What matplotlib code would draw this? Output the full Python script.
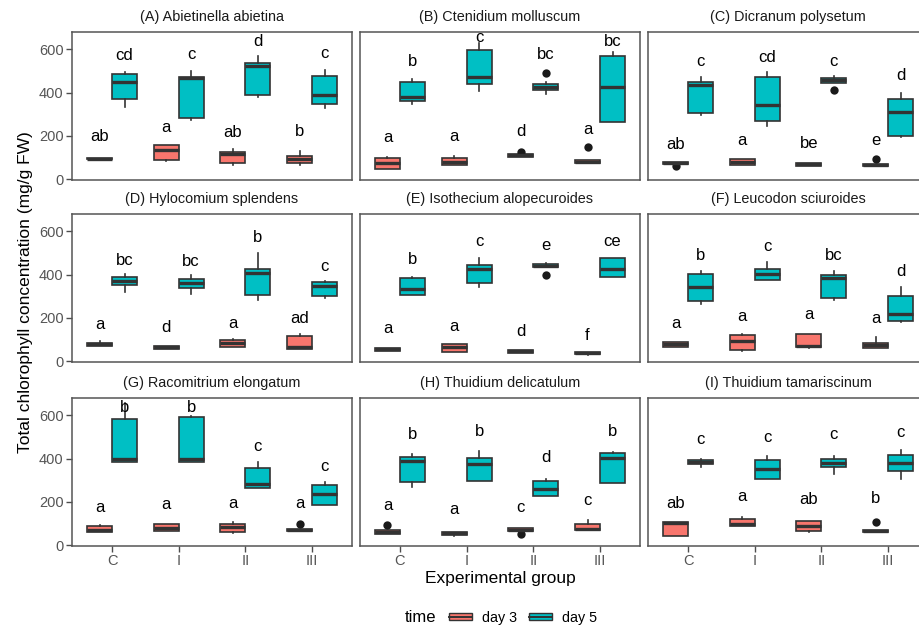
import numpy as np
import matplotlib
matplotlib.use("Agg")
import matplotlib.pyplot as plt
from matplotlib.lines import Line2D
from matplotlib.patches import Rectangle, Patch
from matplotlib.legend_handler import HandlerBase

plt.rcParams['font.family'] = ['Liberation Sans', 'DejaVu Sans']

groups = ["C", "I", "II", "III"]
days = ["day 3", "day 5"]
day_colors = ["#F8766D", "#00BFC4"]

# five-number summaries per group: [lower whisker, Q1, median, Q3, upper whisker]
# letters / letter heights are ordered C-d3, C-d5, I-d3, I-d5, II-d3, II-d5, III-d3, III-d5

abietina_d3 = [[92, 92, 96, 100, 100], [83, 91, 136, 156, 160], [66, 74, 119, 126, 139], [68, 76, 96, 106, 131]]
abietina_d5 = [[335, 370, 449, 486, 493], [273, 284, 466, 472, 497], [378, 390, 521, 538, 569], [330, 349, 389, 478, 504]]
abietina_letters = ["ab", "cd", "a", "c", "ab", "d", "b", "c"]
abietina_letter_y = [196, 571, 239, 574, 214, 635, 219, 581]

ctenidium_d3 = [[49, 49, 76, 99, 103], [66, 66, 82, 97, 106], [103, 103, 110, 116, 116], [76, 76, 82, 88, 88]]
ctenidium_d5 = [[347, 362, 381, 449, 463], [409, 441, 470, 595, 628], [395, 412, 427, 441, 450], [262, 262, 424, 569, 586]]
ctenidium_letters = ["a", "b", "a", "c", "d", "bc", "a", "bc"]
ctenidium_letter_y = [191, 543, 196, 655, 219, 574, 230, 635]

dicranum_d3 = [[69, 69, 75, 80, 80], [68, 68, 80, 96, 96], [62, 62, 71, 77, 77], [60, 60, 66, 72, 72]]
dicranum_d5 = [[296, 307, 433, 450, 470], [247, 270, 344, 470, 495], [446, 446, 457, 466, 474], [193, 200, 312, 369, 399]]
dicranum_letters = ["ab", "c", "a", "cd", "be", "c", "e", "d"]
dicranum_letter_y = [162, 543, 180, 563, 165, 543, 177, 477]

hylocomium_d3 = [[72, 72, 80, 86, 93], [59, 59, 66, 72, 72], [66, 68, 85, 99, 103], [59, 59, 68, 119, 126]]
hylocomium_d5 = [[321, 350, 370, 387, 401], [310, 336, 361, 381, 396], [282, 308, 407, 426, 500], [293, 302, 347, 364, 370]]
hylocomium_letters = ["a", "bc", "d", "bc", "a", "b", "ad", "c"]
hylocomium_letter_y = [168, 466, 157, 458, 176, 572, 199, 438]

isothecium_d3 = [[48, 48, 57, 63, 63], [45, 45, 65, 79, 79], [40, 40, 46, 52, 52], [29, 32, 39, 45, 45]]
isothecium_d5 = [[307, 307, 335, 384, 389], [342, 362, 427, 443, 474], [435, 435, 441, 447, 455], [390, 390, 426, 475, 475]]
isothecium_letters = ["a", "b", "a", "c", "d", "e", "f", "ce"]
isothecium_letter_y = [150, 469, 160, 551, 137, 532, 119, 551]

leucodon_d3 = [[66, 68, 79, 88, 88], [46, 52, 94, 120, 128], [62, 65, 72, 126, 126], [62, 62, 76, 86, 114]]
leucodon_d5 = [[264, 276, 343, 401, 416], [376, 376, 401, 427, 460], [282, 292, 384, 399, 415], [180, 187, 219, 302, 341]]
leucodon_letters = ["a", "b", "a", "c", "a", "bc", "a", "d"]
leucodon_letter_y = [173, 489, 207, 531, 217, 489, 199, 415]

racomitrium_d3 = [[60, 60, 71, 87, 93], [68, 68, 80, 97, 97], [56, 60, 83, 99, 108], [66, 66, 71, 76, 76]]
racomitrium_d5 = [[385, 385, 399, 581, 654], [385, 385, 400, 592, 597], [266, 266, 283, 356, 385], [186, 186, 237, 280, 292]]
racomitrium_letters = ["a", "b", "a", "b", "a", "c", "a", "c"]
racomitrium_letter_y = [176, 635, 187, 635, 195, 455, 195, 362]

delicatulum_d3 = [[53, 53, 62, 70, 70], [43, 49, 57, 63, 63], [66, 66, 73, 79, 79], [70, 70, 76, 97, 117]]
delicatulum_d5 = [[269, 292, 387, 408, 422], [295, 295, 376, 403, 436], [229, 229, 258, 295, 308], [288, 288, 402, 425, 430]]
delicatulum_letters = ["a", "b", "a", "b", "c", "d", "c", "b"]
delicatulum_letter_y = [182, 512, 167, 523, 176, 403, 207, 523]

tamariscinum_d3 = [[45, 45, 102, 107, 107], [87, 87, 97, 122, 130], [60, 68, 90, 110, 114], [63, 63, 68, 73, 73]]
tamariscinum_d5 = [[362, 375, 385, 392, 400], [306, 306, 354, 393, 411], [331, 363, 379, 399, 414], [306, 343, 380, 416, 441]]
tamariscinum_letters = ["ab", "c", "a", "c", "ab", "c", "b", "c"]
tamariscinum_letter_y = [195, 489, 226, 498, 210, 509, 218, 520]

# outlying observations: (panel index, day index, group index, value)
outliers = [
    (1, 0, 2, 126), (1, 0, 3, 148), (1, 1, 2, 492),
    (2, 0, 0, 62), (2, 0, 3, 93), (2, 1, 2, 412),
    (4, 1, 2, 399),
    (6, 0, 3, 100),
    (7, 0, 0, 93), (7, 0, 2, 54),
    (8, 0, 3, 108),
]

titles = [
    "(A) Abietinella abietina", "(B) Ctenidium molluscum", "(C) Dicranum polysetum",
    "(D) Hylocomium splendens", "(E) Isothecium alopecuroides", "(F) Leucodon sciuroides",
    "(G) Racomitrium elongatum", "(H) Thuidium delicatulum", "(I) Thuidium tamariscinum",
]

panels = [
    (abietina_d3, abietina_d5, abietina_letters, abietina_letter_y),
    (ctenidium_d3, ctenidium_d5, ctenidium_letters, ctenidium_letter_y),
    (dicranum_d3, dicranum_d5, dicranum_letters, dicranum_letter_y),
    (hylocomium_d3, hylocomium_d5, hylocomium_letters, hylocomium_letter_y),
    (isothecium_d3, isothecium_d5, isothecium_letters, isothecium_letter_y),
    (leucodon_d3, leucodon_d5, leucodon_letters, leucodon_letter_y),
    (racomitrium_d3, racomitrium_d5, racomitrium_letters, racomitrium_letter_y),
    (delicatulum_d3, delicatulum_d5, delicatulum_letters, delicatulum_letter_y),
    (tamariscinum_d3, tamariscinum_d5, tamariscinum_letters, tamariscinum_letter_y),
]

W, H = 920, 626
fig = plt.figure(figsize=(W / 100, H / 100), dpi=100)

col_left = [72, 360, 648]
row_top = [32, 214, 398]
pw, ph = 280, 148

edge = "#333333"
dodge = 0.1875
box_w = 0.375
xpos = np.arange(1, len(groups) + 1)

for k, (d3, d5, letters, letter_y) in enumerate(panels):
    r, c = divmod(k, 3)
    ax = fig.add_axes([col_left[c] / W, 1 - (row_top[r] + ph) / H, pw / W, ph / H])
    for d, summ in enumerate((d3, d5)):
        stats = []
        for g, (lo, q1, med, q3, hi) in enumerate(summ):
            fl = [v for (p, dd, gg, v) in outliers if p == k and dd == d and gg == g]
            stats.append(dict(whislo=lo, q1=q1, med=med, q3=q3, whishi=hi, fliers=fl))
        pos = xpos + (2 * d - 1) * dodge
        ax.bxp(stats, positions=pos, widths=box_w, patch_artist=True, showcaps=False,
               boxprops=dict(facecolor=day_colors[d], edgecolor=edge, linewidth=1.2),
               medianprops=dict(color=edge, linewidth=2.4, solid_capstyle="butt"),
               whiskerprops=dict(color=edge, linewidth=1.2),
               flierprops=dict(marker="o", markerfacecolor="#1a1a1a", markeredgecolor="none",
                               markersize=6))
    for j, (lab, ly) in enumerate(zip(letters, letter_y)):
        g, d = divmod(j, 2)
        ax.text(xpos[g] + (2 * d - 1) * dodge, ly, lab, ha="center", va="center",
                fontsize=12, color="black")
    ax.set_xlim(0.4, 4.6)
    ax.set_ylim(-3, 679)
    ax.set_yticks([0, 200, 400, 600])
    ax.set_xticks(xpos)
    ax.set_xticklabels(groups)
    for s in ax.spines.values():
        s.set_color("#555555")
        s.set_linewidth(1.1)
    ax.tick_params(colors="#4d4d4d", labelsize=10.5, length=4, width=1, pad=2,
                   labelcolor="#555555")
    if c != 0:
        ax.tick_params(left=False, labelleft=False)
    if r != 2:
        ax.tick_params(bottom=False, labelbottom=False)
    ax.text(0.5, 1.1, titles[k], transform=ax.transAxes, ha="center", va="center",
            fontsize=10.4, color="#1a1a1a")

fig.text(26 / W, 1 - 292 / H, "Total chlorophyll concentration (mg/g FW)", rotation=90,
         ha="center", va="center", fontsize=12.5, color="black")
fig.text(500 / W, 1 - 578 / H, "Experimental group", ha="center", va="center",
         fontsize=12.5, color="black")


class BoxKey(HandlerBase):
    def create_artists(self, legend, orig_handle, xdescent, ydescent, width, height,
                       fontsize, trans):
        y0 = -ydescent
        rect = Rectangle((-xdescent, y0 + height * 0.15), width, height * 0.7,
                         facecolor=orig_handle.get_facecolor(), edgecolor=edge,
                         linewidth=1.0, transform=trans)
        mid = Line2D([-xdescent, -xdescent + width], [y0 + height / 2] * 2,
                     color=edge, linewidth=1.4, transform=trans)
        return [rect, mid]


handles = [Patch(facecolor=col) for col in day_colors]
fig.text(421 / W, 1 - 618 / H, "time", ha="center", va="center", fontsize=12, color="black")
fig.legend(handles, days, handler_map={Patch: BoxKey()}, loc="center",
           bbox_to_anchor=(523 / W, 1 - 618 / H), ncol=2, frameon=False,
           fontsize=10.3, handlelength=1.6, handleheight=0.7, handletextpad=0.7,
           columnspacing=0.8, borderpad=0)

fig.savefig("out.png", dpi=100)
